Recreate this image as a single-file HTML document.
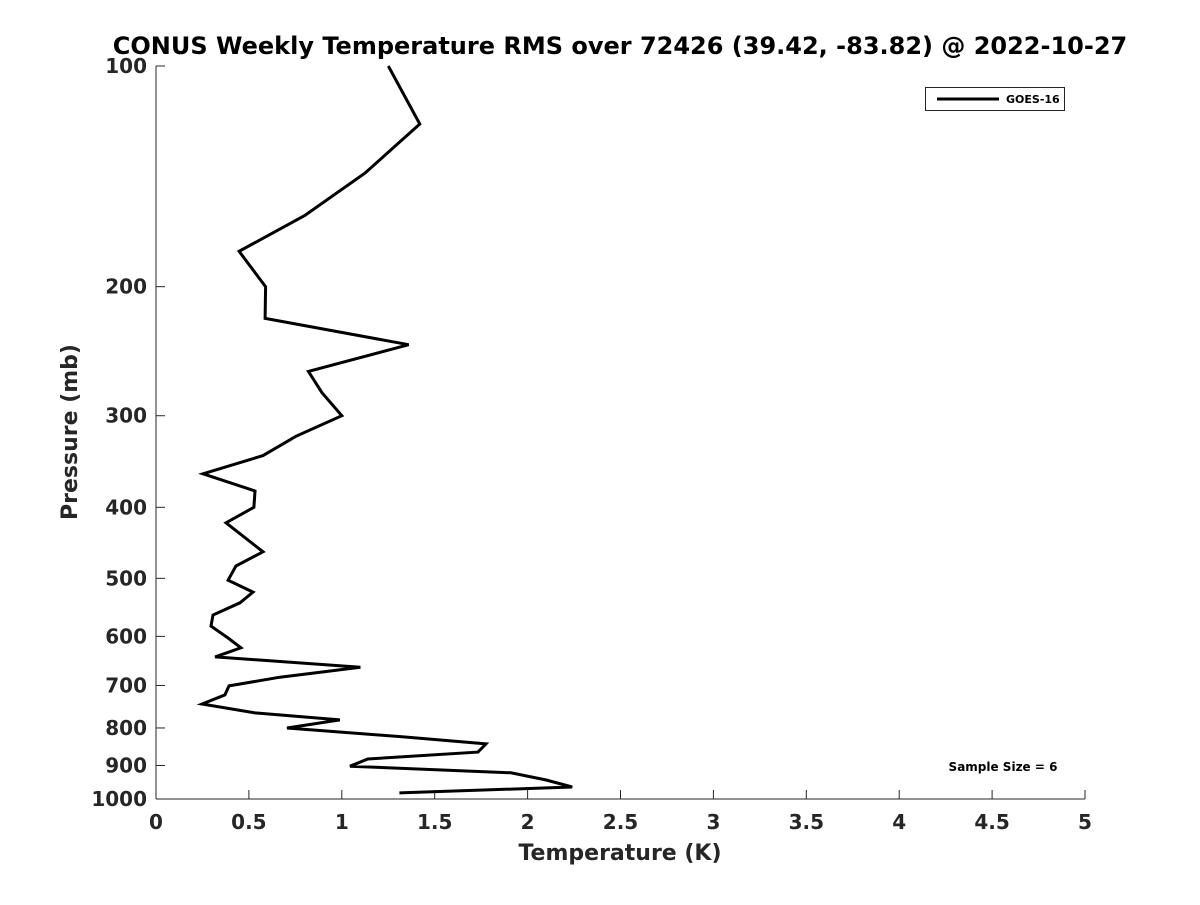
<!DOCTYPE html>
<html><head><meta charset="utf-8"><style>
body{margin:0;background:#fff}
svg text{font-family:"DejaVu Sans","Liberation Sans",sans-serif;font-weight:bold;fill:#262626}
</style></head><body>
<svg id="chart" width="1200" height="900" xmlns="http://www.w3.org/2000/svg">
<rect width="1200" height="900" fill="#fff"/>
<text x="620" y="54" font-size="24" text-anchor="middle" style="fill:#000">CONUS Weekly Temperature RMS over 72426 (39.42, -83.82) @ 2022-10-27</text>
<g id="axes"></g>
<polyline id="line" fill="none" stroke="#000" stroke-width="3" stroke-linejoin="miter"/>
<text x="620" y="860" font-size="22" text-anchor="middle">Temperature (K)</text>
<text transform="translate(77,432) rotate(-90)" font-size="22" text-anchor="middle">Pressure (mb)</text>
<g>
<rect x="925.5" y="87.5" width="139" height="23" fill="#fff" stroke="#262626" stroke-width="1"/>
<line x1="937" y1="99" x2="999" y2="99" stroke="#000" stroke-width="3"/>
<text x="1006" y="103" font-size="11" style="fill:#000">GOES-16</text>
</g>
<text x="1003" y="771" font-size="12" text-anchor="middle" style="fill:#000">Sample Size = 6</text>
</svg>
<script>
const pressures=[100,120,140,160,179,200,221,240,261,279,300,320,340,360,380,400,420,460,481,503,522,540,561,581,603,622,640,661,682,701,721,742,763,780,800,823,841,863,882,902,921,942,963,981];
const rmsValues=[1.25,1.42,1.125,0.80,0.447,0.59,0.587,1.36,0.82,0.893,1.0,0.753,0.576,0.253,0.533,0.527,0.377,0.576,0.43,0.388,0.522,0.452,0.307,0.296,0.388,0.457,0.318,1.10,0.667,0.393,0.371,0.248,0.533,0.99,0.705,1.34,1.776,1.733,1.14,1.044,1.91,2.10,2.24,1.31];
const xTicks=[0,0.5,1,1.5,2,2.5,3,3.5,4,4.5,5];
const yTicks=[100,200,300,400,500,600,700,800,900,1000];
const X0=156,X1=1085,Y0=66,Y1=799;
const xs=v=>X0+(v/5)*(X1-X0);
const ys=p=>Y0+(Math.log10(p)-2)*(Y1-Y0);
const NS="http://www.w3.org/2000/svg";
const ax=document.getElementById('axes');
function mk(t,a,txt){const e=document.createElementNS(NS,t);for(const k in a)e.setAttribute(k,a[k]);if(txt!=null)e.textContent=txt;ax.appendChild(e);return e;}
mk('line',{x1:X0,y1:Y0,x2:X0,y2:Y1,stroke:'#262626','stroke-width':1});
mk('line',{x1:X0,y1:Y1,x2:X1,y2:Y1,stroke:'#262626','stroke-width':1});
xTicks.forEach(v=>{const x=xs(v);
const t=mk('line',{x1:x,y1:Y1,x2:x,y2:Y1-9,stroke:'#262626'});


const l=mk('text',{x:x,y:Y1+30,'font-size':20,'text-anchor':'middle'},String(v));

});
yTicks.forEach(p=>{const y=ys(p);
const t=mk('line',{x1:X0,y1:y,x2:X0+9,y2:y,stroke:'#262626'});


const l=mk('text',{x:X0-9,y:y+7,'font-size':20,'text-anchor':'end'},String(p));

});
document.getElementById('line').setAttribute('points',pressures.map((p,i)=>xs(rmsValues[i]).toFixed(1)+','+ys(p).toFixed(1)).join(' '));
</script>
</body></html>
